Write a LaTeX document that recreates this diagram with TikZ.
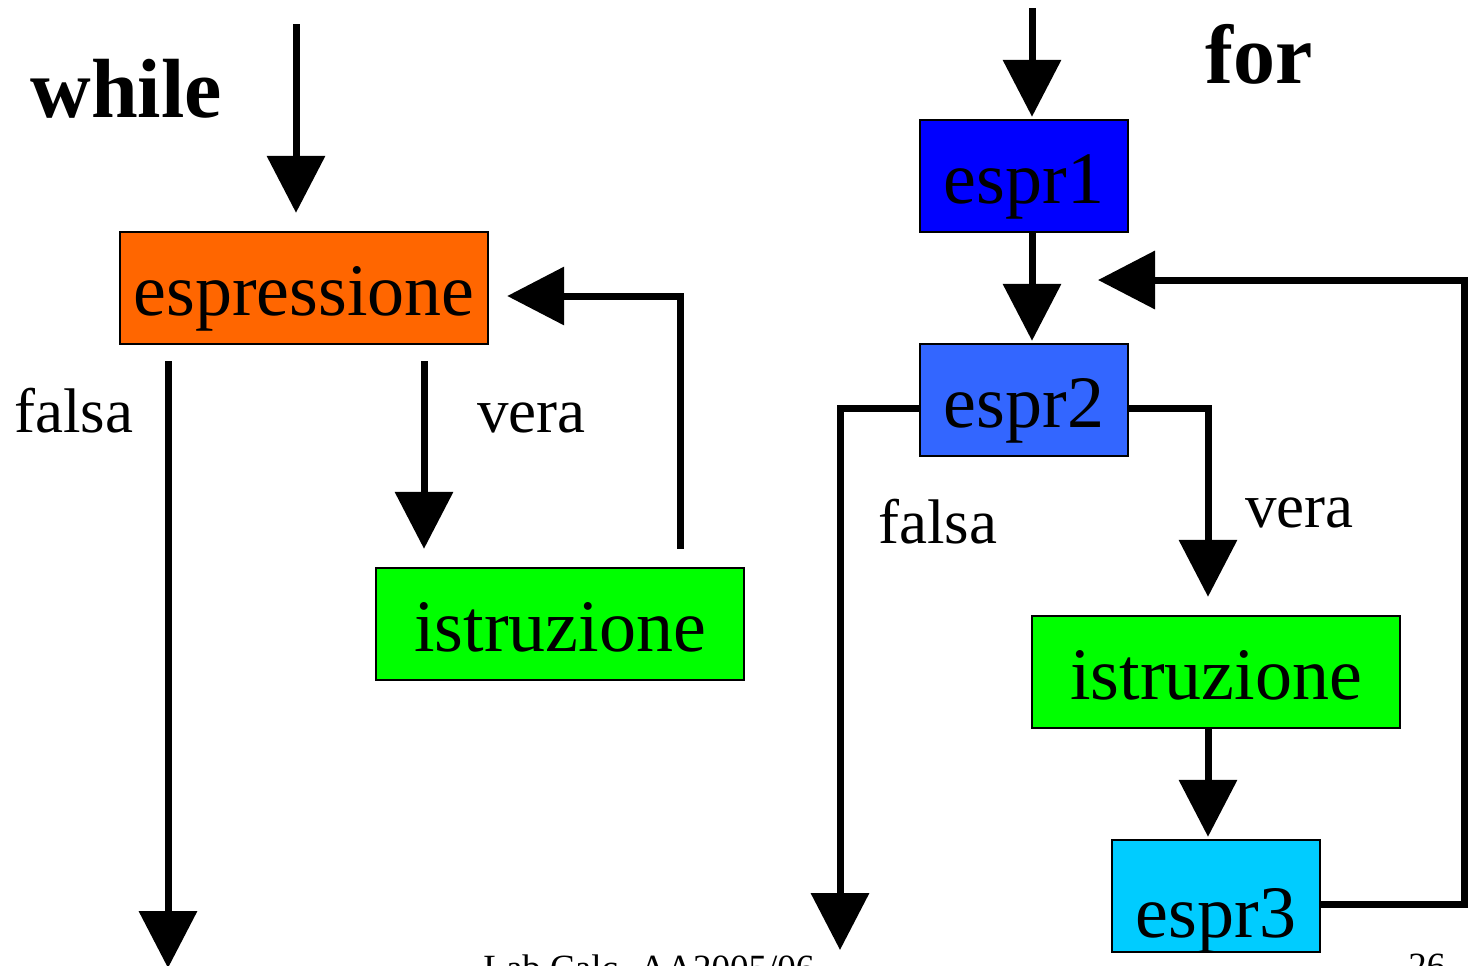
\documentclass[tikz,border=0pt]{standalone}
\usepackage{fontspec}
\setmainfont{Liberation Serif}
\usetikzlibrary{arrows.meta}
\definecolor{exprorange}{HTML}{FF6600}
\definecolor{stmtgreen}{HTML}{00FF00}
\definecolor{initblue}{HTML}{0000FF}
\definecolor{testblue}{HTML}{3366FF}
\definecolor{stepcyan}{HTML}{00CCFF}
\begin{document}
\begin{tikzpicture}[x=0.5pt,y=-0.5pt,
  blk/.style={draw=black, line width=1.2pt, inner sep=0pt,
    minimum height=56pt, text height=32pt, text depth=5pt,
    font=\fontsize{37}{40}\selectfont},
  wideblk/.style={blk, minimum width=184pt},
  narrowblk/.style={blk, minimum width=104pt},
  flow/.style={line width=3.5pt, -{Triangle[length=28.5pt,width=28.5pt]}},
  lbl/.style={anchor=base west, inner sep=0pt, font=\fontsize{31.5}{34}\selectfont},
  kw/.style={anchor=base west, inner sep=0pt, font=\fontsize{42}{46}\selectfont\bfseries},
  foot/.style={anchor=base west, inner sep=0pt, font=\fontsize{18.5}{20}\selectfont}]
\useasboundingbox (0,0) rectangle (1470,965);
\clip (0,0) rectangle (1470,965);

% ---------- while ----------
\node[kw] (kwwhile) at (30,117) {while};
\node[wideblk, fill=exprorange] (esp) at (304,288) {espressione};
\node[wideblk, fill=stmtgreen] (istrL) at (560,624) {istruzione};
\node[lbl] (wfalsa) at (14,432) {falsa};
\node[lbl] (wvera) at (477,432) {vera};

\coordinate (wIn) at (296,24);
\coordinate (wF) at (168,968);
\coordinate (wV) at (424,0);
\coordinate (wL) at (680,296);

\draw[flow, shorten >=9pt] (wIn) -- (wIn |- esp.north);
\draw[flow, shorten <=8pt] (wF |- esp.south) -- (wF);
\draw[flow, shorten <=8pt, shorten >=9pt] (wV |- esp.south) -- (wV |- istrL.north);
\draw[flow, shorten <=9pt, shorten >=9pt] (wL |- istrL.north) -- (wL) -- (wL -| esp.east);

% ---------- for ----------
\node[kw] (kwfor) at (1205,83) {for};
\node[narrowblk, fill=initblue] (e1) at (1024,176) {espr1};
\node[narrowblk, fill=testblue] (e2) at (1024,400) {espr2};
\node[wideblk, fill=stmtgreen] (istrR) at (1216,672) {istruzione};
\node[narrowblk, fill=stepcyan, text height=46pt] (e3) at (1216,896) {espr3};
\node[lbl] (ffalsa) at (878,543) {falsa};
\node[lbl] (fvera) at (1245,527) {vera};

\coordinate (fIn) at (1032,8);
\coordinate (fV) at (1208,408);
\coordinate (fF) at (840,408);
\coordinate (fFend) at (840,950);
\coordinate (fR) at (1464,904);
\coordinate (fTop) at (1464,280);
\coordinate (fTip) at (1098,280);

\draw[flow, shorten >=1pt] (fIn) -- (fIn |- e1.north);
\draw[flow, shorten >=1pt] (fIn |- e1.south) -- (fIn |- e2.north);
\draw[flow, shorten >=9pt] (fV -| e2.east) -- (fV) -- (fV |- istrR.north);
\draw[flow, shorten >=1pt] (fV |- istrR.south) -- (fV |- e3.north);
\draw[flow] (fF -| e2.west) -- (fF) -- (fFend);
\draw[flow] (fR -| e3.east) -- (fR) -- (fTop) -- (fTip);

% ---------- footer ----------
\node[foot] (course) at (483,980) {Lab Calc. AA2005/06};
\node[foot] (page) at (1408,978) {26};
\end{tikzpicture}
\end{document}
